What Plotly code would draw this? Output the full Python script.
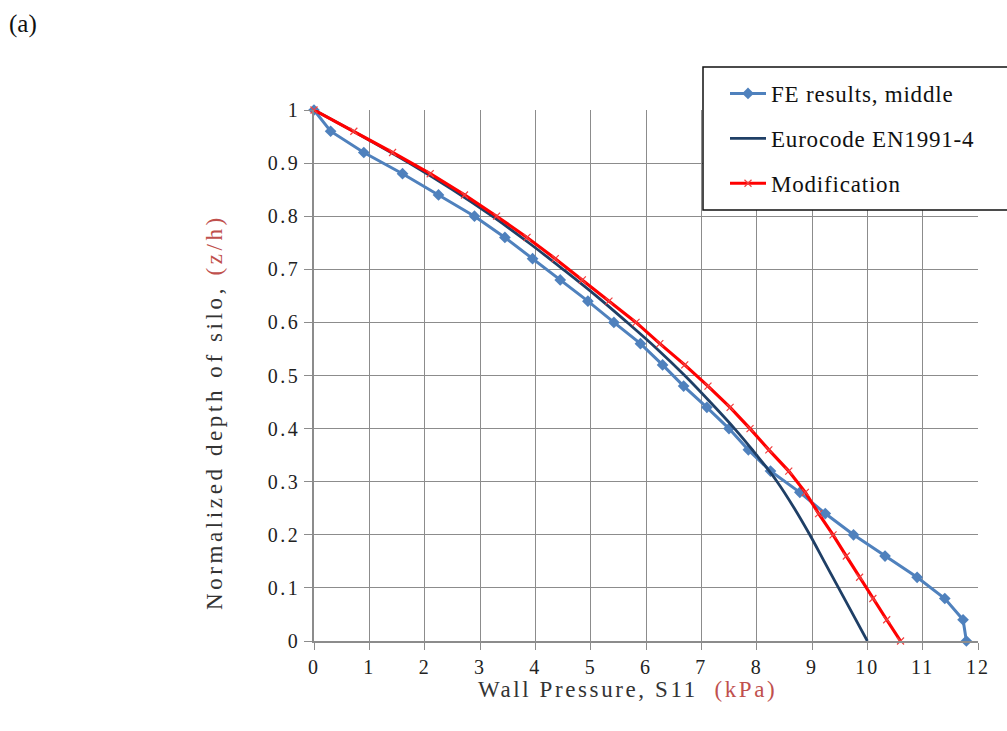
import plotly.graph_objects as go

# ---- data ----
fe_depth = [1.00, 0.96, 0.92, 0.88, 0.84, 0.80, 0.76, 0.72, 0.68, 0.64, 0.60, 0.56, 0.52,
            0.48, 0.44, 0.40, 0.36, 0.32, 0.28, 0.24, 0.20, 0.16, 0.12, 0.08, 0.04, 0.00]
fe_pressure = [0.0, 0.3, 0.9, 1.6, 2.25, 2.9, 3.45, 3.95, 4.45, 4.95, 5.42, 5.9, 6.3,
               6.68, 7.1, 7.5, 7.85, 8.25, 8.78, 9.24, 9.75, 10.32, 10.9, 11.4, 11.73, 11.79]

ec_depth = [1.00, 0.95, 0.90, 0.85, 0.80, 0.75, 0.70, 0.65, 0.60, 0.55, 0.50,
            0.45, 0.40, 0.35, 0.30, 0.25, 0.20, 0.15, 0.10, 0.05, 0.00]
ec_pressure = [0.0, 0.88, 1.72, 2.5, 3.22, 3.88, 4.5, 5.1, 5.66, 6.2, 6.7,
               7.16, 7.6, 8.0, 8.37, 8.68, 8.96, 9.22, 9.48, 9.74, 10.0]

mod_depth = [1.00, 0.96, 0.92, 0.88, 0.84, 0.80, 0.76, 0.72, 0.68, 0.64, 0.60, 0.56, 0.52,
             0.48, 0.44, 0.40, 0.36, 0.32, 0.28, 0.24, 0.20, 0.16, 0.12, 0.08, 0.04, 0.00]
mod_pressure = [0.0, 0.72, 1.42, 2.1, 2.72, 3.3, 3.85, 4.36, 4.85, 5.33, 5.82, 6.25, 6.7,
                7.12, 7.52, 7.88, 8.22, 8.58, 8.88, 9.12, 9.38, 9.62, 9.86, 10.1, 10.35, 10.6]

x_ticks = list(range(0, 13))
x_ticktext = [str(v) for v in x_ticks]
y_ticks = [0, 0.1, 0.2, 0.3, 0.4, 0.5, 0.6, 0.7, 0.8, 0.9, 1]
y_ticktext = ["0", "0.1", "0.2", "0.3", "0.4", "0.5", "0.6", "0.7", "0.8", "0.9", "1"]

SERIF = "Liberation Serif, Times New Roman, serif"
BLUE = "#4F81BD"
NAVY = "#1F3F66"
RED = "#FF0000"
TITLE_RED = "#C0504D"


def spaced(text, px):
    return "<span style='letter-spacing:%gpx'>%s</span>" % (px, text)


fig = go.Figure()
fig.add_trace(go.Scatter(
    x=fe_pressure, y=fe_depth, mode="lines+markers", name=spaced("FE results, middle", 0.8),
    line=dict(color=BLUE, width=3),
    marker=dict(symbol="diamond", size=9, color=BLUE),
    cliponaxis=False, legendgroup="a"))
fig.add_trace(go.Scatter(
    x=ec_pressure, y=ec_depth, mode="lines", name=spaced("Eurocode EN1991-4", 0.8),
    line=dict(color=NAVY, width=2.8, shape="spline"),
    cliponaxis=False, legendgroup="b"))
fig.add_trace(go.Scatter(
    x=mod_pressure, y=mod_depth, mode="lines+markers", name=spaced("Modification", 0.8),
    line=dict(color=RED, width=3.2),
    marker=dict(symbol="x-thin", size=7, color="#F04040", line=dict(color="#F04040", width=1.2)),
    cliponaxis=False, legendgroup="c"))

L, R, T, B = 314, 1007 - 978, 110, 731 - 641
plot_w = 1007 - L - R
plot_h = 731 - T - B

def px_to_paper_x(px):
    return (px - L) / plot_w

def px_to_paper_y(py):
    return (731 - B - py) / plot_h

fig.update_layout(
    width=1007, height=731,
    margin=dict(l=L, r=R, t=T, b=B),
    paper_bgcolor="white", plot_bgcolor="white",
    font=dict(family=SERIF, size=18, color="#222222"),
    showlegend=True,
    legend=dict(
        x=px_to_paper_x(725), y=px_to_paper_y(72), xanchor="left", yanchor="top",
        bgcolor="rgba(0,0,0,0)", borderwidth=0,
        font=dict(family=SERIF, size=23, color="#111111"),
        tracegroupgap=12, itemwidth=36,
    ),
    xaxis=dict(
        range=[0, 12], tickmode="array", tickvals=x_ticks,
        ticktext=[spaced(t, 2) for t in x_ticktext],
        showgrid=True, gridcolor="#8C8C8C", gridwidth=1,
        showline=True, linecolor="#8C8C8C", linewidth=1.5,
        ticks="outside", ticklen=7, tickcolor="#8C8C8C",
        tickfont=dict(family=SERIF, size=20, color="#222222"),
        zeroline=False, fixedrange=True,
    ),
    yaxis=dict(
        range=[0, 1], tickmode="array", tickvals=y_ticks,
        ticktext=[spaced(t, 2.5) for t in y_ticktext],
        showgrid=True, gridcolor="#8C8C8C", gridwidth=1,
        showline=True, linecolor="#8C8C8C", linewidth=1.5,
        ticks="outside", ticklen=8, tickcolor="#8C8C8C",
        tickfont=dict(family=SERIF, size=20, color="#222222"),
        zeroline=False, fixedrange=True,
    ),
    shapes=[dict(
        type="rect", xref="paper", yref="paper", layer="above",
        x0=px_to_paper_x(703), x1=px_to_paper_x(1012),
        y0=px_to_paper_y(210), y1=px_to_paper_y(67),
        line=dict(color="#111111", width=1.5), fillcolor="white",
    )],
    annotations=[
        dict(text="<span style='letter-spacing:2.6px'>Wall Pressure, S11  </span>"
                  "<span style='letter-spacing:2.6px;color:%s'>(kPa)</span>" % TITLE_RED,
             xref="paper", yref="paper", x=px_to_paper_x(627), y=px_to_paper_y(689),
             xanchor="center", yanchor="middle", showarrow=False,
             font=dict(family=SERIF, size=23, color="#333333")),
        dict(text="<span style='letter-spacing:3.6px'>Normalized depth of silo, </span>"
                  "<span style='letter-spacing:3.6px;color:%s'>(z/h)</span>" % TITLE_RED,
             xref="paper", yref="paper", x=px_to_paper_x(215), y=px_to_paper_y(412),
             xanchor="center", yanchor="middle", showarrow=False, textangle=-90,
             font=dict(family=SERIF, size=23, color="#333333")),
        dict(text="(a)", xref="paper", yref="paper",
             x=px_to_paper_x(7), y=px_to_paper_y(24),
             xanchor="left", yanchor="middle", showarrow=False,
             font=dict(family=SERIF, size=25, color="#111111")),
    ],
)

fig.write_html("out.html")
